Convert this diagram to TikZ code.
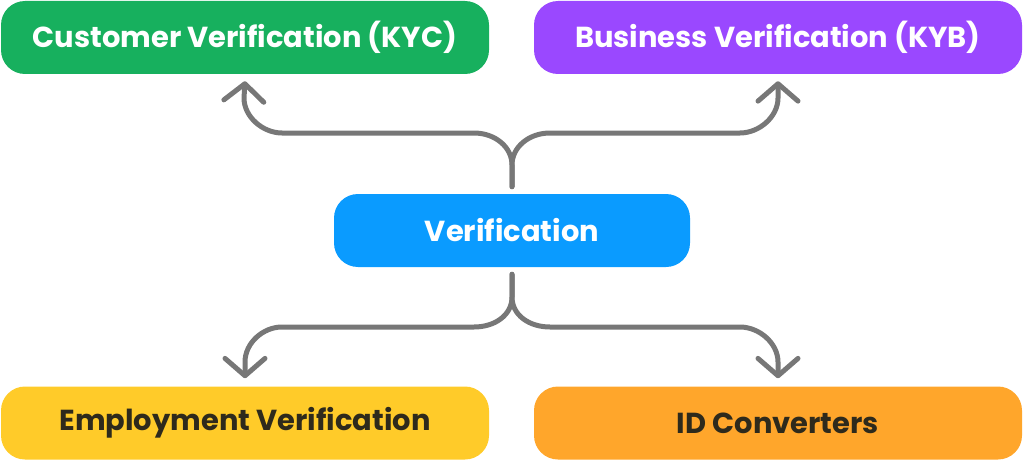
\documentclass[tikz,border=0pt]{standalone}
\usepackage{fontspec}
\setmainfont{Poppins}
\usetikzlibrary{arrows.meta,calc}
\definecolor{cgreen}{HTML}{17B05E}
\definecolor{cpurple}{HTML}{9A48FF}
\definecolor{cblue}{HTML}{0A9BFF}
\definecolor{cyellow}{HTML}{FFCB29}
\definecolor{corange}{HTML}{FFA62B}
\definecolor{cdark}{HTML}{2E2A1C}
\definecolor{cline}{HTML}{777777}
\begin{document}
\begin{tikzpicture}[x=0.75pt,y=-0.75pt,
  box/.style={rounded corners=18pt, minimum width=366pt, minimum height=54.75pt, inner sep=0pt, font=\bfseries\fontsize{21.7}{26}\selectfont},
  lightbox/.style={box, text=white},
  darkbox/.style={box, text=cdark},
  conn/.style={draw=cline, line width=3.75pt, line cap=round, line join=round, -{Straight Barb[length=13pt,width=30pt,round]}}]
\useasboundingbox (0,0) rectangle (1024,460);
\node[lightbox, fill=cgreen] (kyc) at (245,37.5) {Customer Verification (KYC)};
\node[lightbox, fill=cpurple] (kyb) at (778,37.5) {Business Verification (KYB)};
\node[lightbox, fill=cblue, minimum width=267pt] (ver) at (512,230.5) {Verification};
\node[darkbox, fill=cyellow] (emp) at (245,423) {Employment Verification};
\node[darkbox, fill=corange] (idc) at (778,423) {ID Converters};
% top connectors
\draw[conn] ($(ver.north)+(0,-7)$) -- (512,165) .. controls (512,147) and (495,133) .. (474,133) -- (282,133) .. controls (263,133) and (244,117) .. (244,98) -- ($(kyc.south)+(0,7)$);
\draw[conn] ($(ver.north)+(0,-7)$) -- (512,165) .. controls (512,147) and (529,133) .. (550,133) -- (740,133) .. controls (759,133) and (778,117) .. (778,98) -- ($(kyb.south)+(0,7)$);
% bottom connectors
\draw[conn] ($(ver.south)+(0,7)$) -- (512,297) .. controls (512,315) and (495,327) .. (474,327) -- (282,327) .. controls (263,327) and (245,343) .. (245,362) -- ($(emp.north)+(0,-8)$);
\draw[conn] ($(ver.south)+(0,7)$) -- (512,297) .. controls (512,315) and (529,327) .. (550,327) -- (740,327) .. controls (759,327) and (778,343) .. (778,362) -- ($(idc.north)+(0,-8)$);
\end{tikzpicture}
\end{document}
